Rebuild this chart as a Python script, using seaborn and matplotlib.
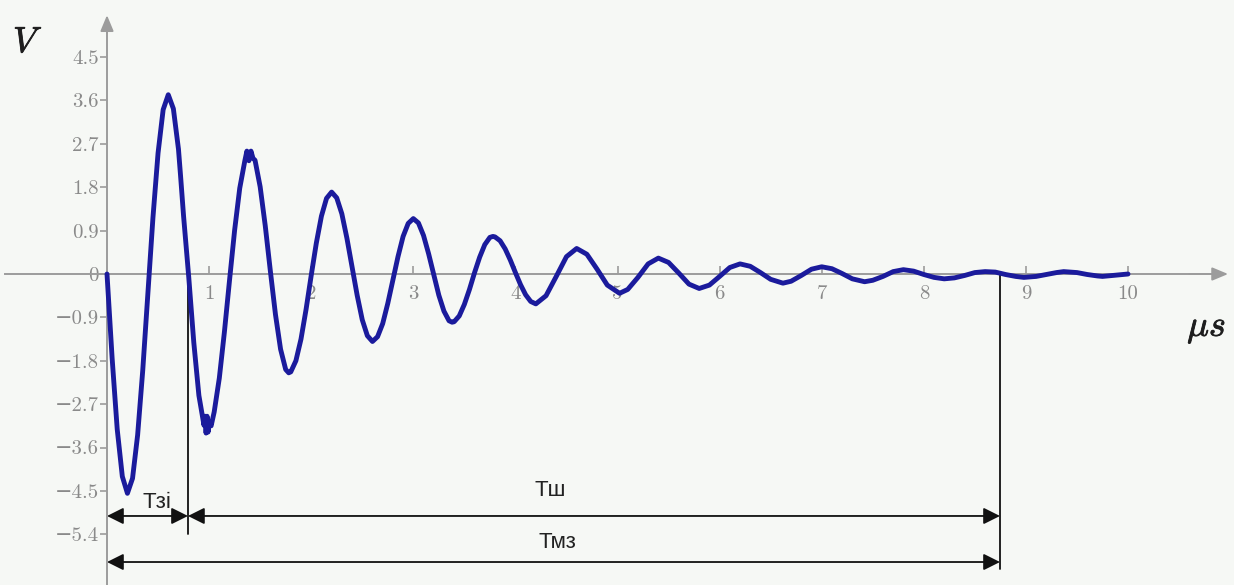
import matplotlib
matplotlib.use("Agg")
import matplotlib.pyplot as plt
import matplotlib.patheffects as pe
import seaborn as sns
import pandas as pd

# ---- data (time in microseconds, voltage in V) ----
time_us = [0.00, 0.05, 0.10, 0.15, 0.20, 0.25, 0.30, 0.35, 0.40, 0.45, 0.50, 0.55, 0.60,
           0.65, 0.70, 0.72, 0.75, 0.80, 0.85, 0.90, 0.95, 0.96, 0.97, 0.98, 0.99, 1.00, 1.02,
           1.05, 1.10, 1.15, 1.20, 1.25, 1.30, 1.35, 1.37, 1.39, 1.41, 1.43, 1.45, 1.50, 1.55,
           1.60, 1.65, 1.70, 1.75, 1.78, 1.80, 1.85, 1.90, 1.95, 2.00, 2.05, 2.10, 2.15, 2.20,
           2.25, 2.30, 2.35, 2.40, 2.45, 2.50, 2.55, 2.60, 2.65, 2.70, 2.75, 2.80, 2.85, 2.90,
           2.95, 3.00, 3.05, 3.10, 3.15, 3.20, 3.25, 3.30, 3.35, 3.38, 3.40, 3.45, 3.50, 3.55,
           3.60, 3.65, 3.70, 3.75, 3.78, 3.80, 3.85, 3.90, 3.95, 4.00, 4.05, 4.10, 4.15, 4.20,
           4.30, 4.40, 4.50, 4.60, 4.70, 4.80, 4.90, 5.02, 5.10, 5.20, 5.30, 5.40, 5.50, 5.60,
           5.70, 5.80, 5.90, 6.00, 6.10, 6.20, 6.30, 6.40, 6.50, 6.62, 6.70, 6.80, 6.90, 7.00,
           7.10, 7.20, 7.30, 7.42, 7.50, 7.60, 7.70, 7.80, 7.90, 8.00, 8.10, 8.20, 8.30, 8.40,
           8.50, 8.60, 8.70, 8.80, 8.90, 8.98, 9.10, 9.20, 9.30, 9.37, 9.50, 9.60, 9.70, 9.75,
           9.85, 9.95, 10.00]
voltage = [0.00, -1.74, -3.22, -4.20, -4.55, -4.24, -3.34, -2.00, -0.42, 1.17, 2.51, 3.41, 3.72,
           3.43, 2.59, 2.05, 1.20, -0.05, -1.42, -2.52, -3.14, -2.95, -3.30, -2.95, -3.28, -3.05, -3.15,
           -2.86, -2.16, -1.20, -0.13, 0.91, 1.78, 2.35, 2.55, 2.35, 2.55, 2.40, 2.36, 1.81, 1.00,
           0.06, -0.84, -1.56, -1.98, -2.05, -2.03, -1.80, -1.35, -0.73, -0.03, 0.64, 1.20, 1.57, 1.70,
           1.58, 1.25, 0.74, 0.15, -0.44, -0.95, -1.28, -1.40, -1.30, -1.03, -0.61, -0.13, 0.36, 0.78,
           1.05, 1.15, 1.06, 0.80, 0.42, -0.01, -0.44, -0.77, -0.97, -1.00, -0.99, -0.87, -0.63, -0.32,
           0.03, 0.35, 0.61, 0.76, 0.78, 0.77, 0.69, 0.52, 0.29, 0.03, -0.22, -0.43, -0.57, -0.62,
           -0.45, -0.05, 0.36, 0.53, 0.41, 0.10, -0.23, -0.40, -0.32, -0.07, 0.21, 0.33, 0.24, 0.02,
           -0.21, -0.30, -0.23, -0.05, 0.135, 0.21, 0.16, 0.03, -0.11, -0.19, -0.15, -0.03, 0.10, 0.15,
           0.11, 0.01, -0.10, -0.16, -0.13, -0.05, 0.05, 0.09, 0.06, -0.01, -0.07, -0.10, -0.08, -0.03,
           0.03, 0.05, 0.04, -0.01, -0.05, -0.07, -0.05, -0.01, 0.03, 0.05, 0.03, -0.01, -0.04, -0.05,
           -0.03, -0.01, 0.00]

y_ticks = [4.5, 3.6, 2.7, 1.8, 0.9, 0.0, -0.9, -1.8, -2.7, -3.6, -4.5, -5.4]
y_tick_labels = ["4.5", "3.6", "2.7", "1.8", "0.9", "0", "\u22120.9", "\u22121.8",
                 "\u22122.7", "\u22123.6", "\u22124.5", "\u22125.4"]
x_ticks = [1, 2, 3, 4, 5, 6, 7, 8, 9, 10]
x_tick_labels = ["1", "2", "3", "4", "5", "6", "7", "8", "9", "10"]

# interval markers (µs)
t_front = 0.793      # end of Тзі
t_end = 8.746        # end of Тш / Тмз
interval_labels = ["Тзі", "Тш", "Тмз"]

# ---- figure ----
sns.set_theme(style="white")
plt.rcParams["mathtext.fontset"] = "cm"
bg = "#f6f8f5"
axis_col = "#9c9c9c"
tick_font = ["cmr10", "DejaVu Serif"]
label_font = ["Liberation Sans Narrow", "Liberation Sans", "DejaVu Sans"]

fig = plt.figure(figsize=(12.34, 5.85), dpi=100, facecolor=bg)
ax = fig.add_axes([0, 0, 1, 1])
ax.set_facecolor(bg)

df = pd.DataFrame({"t": time_us, "v": voltage})
sns.lineplot(data=df, x="t", y="v", ax=ax, color="#1b1b9c", linewidth=3.5,
             sort=False, estimator=None, zorder=5)
ax.lines[-1].set_solid_joinstyle("round")

ax.set_xlim(-1.048, 11.038)
ax.set_ylim(-6.452, 5.685)
ax.set_xlabel("")
ax.set_ylabel("")

# axes through the origin
for s in ["top", "right"]:
    ax.spines[s].set_visible(False)
ax.spines["left"].set_position(("data", 0))
ax.spines["bottom"].set_position(("data", 0))
ax.spines["left"].set_bounds(-6.45, 5.2)
ax.spines["bottom"].set_bounds(-1.0, 10.8)
for s in ["left", "bottom"]:
    ax.spines[s].set_color(axis_col)
    ax.spines[s].set_linewidth(1.4)
    ax.spines[s].set_zorder(2)

ax.set_yticks(y_ticks)
ax.set_yticklabels(y_tick_labels, fontfamily=tick_font)
ax.set_xticks(x_ticks)
ax.set_xticklabels(x_tick_labels, fontfamily=tick_font)
ax.tick_params(axis="y", direction="out", length=5, width=1.2, color=axis_col,
               labelcolor="#8a8a8a", labelsize=15, pad=1, left=True)
ax.tick_params(axis="x", direction="in", length=6, width=1.2, color=axis_col,
               labelcolor="#8a8a8a", labelsize=15, pad=8, bottom=True)

# axis arrowheads
ax.annotate("", xy=(0, 5.37), xytext=(0, 5.0),
            arrowprops=dict(arrowstyle="-|>,head_length=0.6,head_width=0.25",
                            color=axis_col, lw=1.4, mutation_scale=16,
                            shrinkA=0, shrinkB=0), zorder=2)
ax.annotate("", xy=(10.98, 0), xytext=(10.6, 0),
            arrowprops=dict(arrowstyle="-|>,head_length=0.6,head_width=0.25",
                            color=axis_col, lw=1.4, mutation_scale=16,
                            shrinkA=0, shrinkB=0), zorder=2)

# axis names
bold = [pe.withStroke(linewidth=0.6, foreground="#1e1e1e")]
ax.text(-0.774, 4.81, r"$V$", fontsize=26, color="#1e1e1e", ha="center", va="center",
        path_effects=bold)
ax.text(10.77, -1.12, r"$\mu s$", fontsize=26, color="#1e1e1e", ha="center", va="center",
        path_effects=bold)

# interval lines
ax.plot([t_front, t_front], [0, -5.4], color="#111111", lw=1.3, zorder=3)
ax.plot([t_end, t_end], [0, -6.12], color="#111111", lw=1.3, zorder=3)

arrow_kw = dict(arrowstyle="<|-|>,head_length=0.5,head_width=0.25", color="#111111",
                lw=1.3, mutation_scale=20, shrinkA=0, shrinkB=0)
y_a = -5.02
y_b = -5.975
ax.annotate("", xy=(t_front, y_a), xytext=(0, y_a), arrowprops=arrow_kw, zorder=4)
ax.annotate("", xy=(t_end, y_a), xytext=(t_front, y_a), arrowprops=arrow_kw, zorder=4)
ax.annotate("", xy=(t_end, y_b), xytext=(0, y_b), arrowprops=arrow_kw, zorder=4)

ax.text(0.49, -4.73, interval_labels[0], fontsize=16, fontfamily=label_font,
        color="#222222", ha="center", va="center")
ax.text(4.34, -4.50, interval_labels[1], fontsize=16, fontfamily=label_font,
        color="#222222", ha="center", va="center")
ax.text(4.41, -5.56, interval_labels[2], fontsize=16, fontfamily=label_font,
        color="#222222", ha="center", va="center")

fig.savefig("out.png", dpi=100, facecolor=bg)
